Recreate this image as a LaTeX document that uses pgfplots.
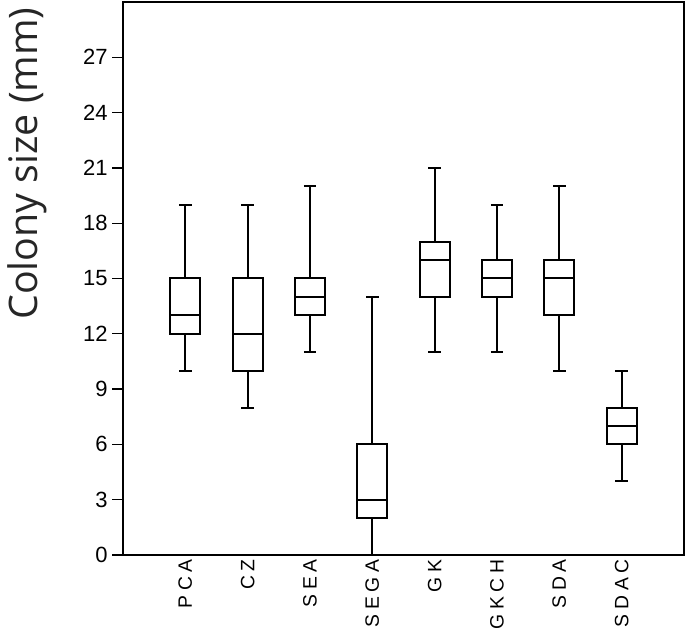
\documentclass[border=0pt]{standalone}
\usepackage{fontspec}
\usepackage{pgfplots}
\pgfplotsset{compat=1.18}
\usepgfplotslibrary{statistics}
\setmainfont{Liberation Sans}
\newfontfamily\ylfont{Open Sans}
\newfontfamily\lsfont[LetterSpace=25]{Liberation Sans}
\pgfplotsset{mybox/.style={black, line width=1.5pt, solid, boxplot/draw direction=y, boxplot/box extend=0.48, boxplot/whisker extend=0.2}}
\begin{document}
\begin{tikzpicture}
\begin{axis}[
  scale only axis,
  width=420.75pt, height=414.75pt,
  xmin=0, xmax=9, ymin=0, ymax=30,
  axis line style={line width=1.3pt},
  xtick={1,2,3,4,5,6,7,8},
  xticklabels={PCA,CZ,SEA,SEGA,GK,GKCH,SDA,SDAC},
  x tick label style={rotate=90, anchor=east, inner sep=1pt, font=\fontsize{14.5pt}{15pt}\lsfont},
  xticklabel shift=-6pt,
  ytick={0,3,...,27},
  y tick label style={font=\fontsize{16.5pt}{17pt}\selectfont},
  /pgf/number format/assume math mode=true,
  tick align=outside,
  ytick pos=left,
  xtick pos=bottom,
  major tick length=8pt,
  x tick style={draw=none},
  y tick style={line width=1pt, black},
  clip=false,
]
\addplot[mybox, boxplot prepared={draw position=1, lower whisker=10, lower quartile=12, median=13, upper quartile=15, upper whisker=19}] coordinates {};
\addplot[mybox, boxplot prepared={draw position=2, lower whisker=8, lower quartile=10, median=12, upper quartile=15, upper whisker=19}] coordinates {};
\addplot[mybox, boxplot prepared={draw position=3, lower whisker=11, lower quartile=13, median=14, upper quartile=15, upper whisker=20}] coordinates {};
\addplot[mybox, boxplot prepared={draw position=4, lower whisker=0, lower quartile=2, median=3, upper quartile=6, upper whisker=14}] coordinates {};
\addplot[mybox, boxplot prepared={draw position=5, lower whisker=11, lower quartile=14, median=16, upper quartile=17, upper whisker=21}] coordinates {};
\addplot[mybox, boxplot prepared={draw position=6, lower whisker=11, lower quartile=14, median=15, upper quartile=16, upper whisker=19}] coordinates {};
\addplot[mybox, boxplot prepared={draw position=7, lower whisker=10, lower quartile=13, median=15, upper quartile=16, upper whisker=20}] coordinates {};
\addplot[mybox, boxplot prepared={draw position=8, lower whisker=4, lower quartile=6, median=7, upper quartile=8, upper whisker=10}] coordinates {};
\end{axis}
\node[rotate=90, font=\fontsize{29.5pt}{31pt}\ylfont, text=black!85] at (-72pt,293.5pt) {Colony size (mm)};
\pgfresetboundingbox
\path (-92.25pt,-57.75pt) rectangle (421.5pt,416.25pt);
\end{tikzpicture}
\end{document}
